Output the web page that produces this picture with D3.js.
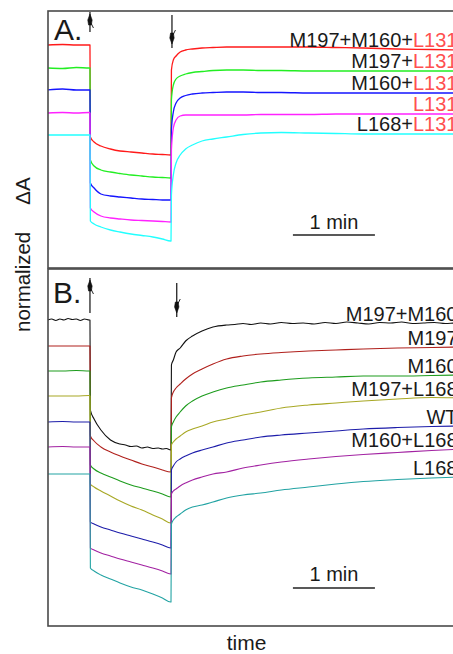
<!DOCTYPE html>
<html>
<head>
<meta charset="utf-8">
<script src="https://cdn.jsdelivr.net/npm/d3@7"></script>
<style>
  html, body { margin: 0; padding: 0; background: #fff; }
  svg { display: block; }
  text { font-family: "Liberation Sans", Arial, sans-serif; fill: #1a1a1a; }
</style>
</head>
<body>
<div id="chart"></div>
<script>
// Sampling times (s); light on at t = 0, light off at t = 59.3
const TIME = [-31, -20, -10, -0.5, 0, 0.3, 3, 8, 15, 22, 30, 38, 46, 53, 59, 59.3,
              59.6, 61, 63, 66, 70, 75, 82, 90, 100, 112, 125, 140, 160, 180, 200, 225, 250, 272];
// Denser sampling for the noisier M197+M160 trace
const TIME_K = [-31, -28, -25, -22, -19, -16, -13, -10, -7, -4, -0.5, 0,
                0.3, 3, 8, 15, 22, 26, 30, 34, 38, 42, 46, 50, 53, 56, 59, 59.3,
                59.6, 61, 63, 66, 70, 75, 82, 90, 100,
                106, 112, 118, 125, 132, 140, 148, 156, 164, 172, 180, 188, 196, 204,
                212, 220, 228, 236, 244, 252, 260, 268, 272];

// Panel A: L131 series — ΔA relative to dark level, plus vertical offsets
const namesA   = ["M197+M160+", "M197+", "M160+", "", "L168+"];
const suffixA  = "L131";
const offsetsA = [22.3, 20.0, 17.8, 15.5, 13.3];
const colorsA  = ["#ff1a1a", "#22ee22", "#1515ff", "#ff22ff", "#22ffff"];
const redA = [0, 0.05, 0, 0, 0,
  -9.2, -9.7, -10.1, -10.4, -10.6, -10.7, -10.8, -10.9, -10.95, -11.0, -11.0,
  -2.5, -1.5, -1.1, -0.7, -0.5, -0.4, -0.3, -0.25, -0.2, -0.2, -0.2, -0.2, -0.2, -0.25, -0.3, -0.4, -0.45, -0.5];
const greenA = [0, -0.05, 0.05, 0, 0,
  -9.2, -9.8, -10.2, -10.4, -10.55, -10.7, -10.8, -10.9, -10.95, -11.0, -11.0,
  -3.2, -1.7, -1.1, -0.8, -0.6, -0.45, -0.35, -0.25, -0.2, -0.2, -0.25, -0.25, -0.3, -0.3, -0.3, -0.3, -0.3, -0.3];
const blueA = [0, 0.1, 0, 0, 0,
  -9.3, -9.8, -10.4, -10.6, -10.7, -10.8, -10.9, -10.95, -11.0, -11.0, -11.0,
  -4.0, -2.2, -1.3, -0.8, -0.55, -0.4, -0.3, -0.25, -0.2, -0.2, -0.25, -0.25, -0.3, -0.3, -0.3, -0.3, -0.3, -0.3];
const magentaA = [0, 0.05, 0, 0.05, 0,
  -9.5, -9.9, -10.3, -10.5, -10.6, -10.7, -10.75, -10.8, -10.85, -10.9, -10.9,
  -3.7, -1.5, -0.7, -0.3, -0.2, -0.2, -0.2, -0.2, -0.2, -0.2, -0.15, -0.15, -0.15, -0.1, -0.1, -0.1, -0.1, -0.1];
const cyanA = [0, 0, 0, 0, 0,
  -8.6, -8.9, -9.2, -9.5, -9.7, -9.9, -10.05, -10.2, -10.4, -10.6, -10.6,
  -6.0, -4.0, -2.8, -2.0, -1.4, -1.0, -0.6, -0.4, -0.2, 0.05, 0.2, 0.25, 0.2, 0.15, 0.1, 0.1, 0.1, 0.1];

// Panel B: strains without L131
const namesB   = ["M197+M160", "M197", "M160", "M197+L168", "WT", "M160+L168", "L168"];
const offsetsB = [30.6, 28.0, 25.5, 23.0, 20.4, 17.9, 15.2];
const colorsB  = ["#111111", "#b0201c", "#1d9c1d", "#a8a825", "#1d1daa", "#a222a2", "#22a3a3"];
const blackB = [0, 0.1, -0.05, 0.1, 0, 0.15, 0.05, 0.1, -0.05, 0.1, 0, 0,
  -9.0, -9.9, -11.0, -12.0, -12.4, -12.5, -12.65, -12.6, -12.8, -12.7, -12.85, -12.8, -12.9, -12.85, -13.0, -13.0,
  -4.5, -4.0, -3.2, -2.8, -2.1, -1.6, -1.1, -0.7, -0.5,
  -0.45, -0.35, -0.45, -0.3, -0.4, -0.25, -0.35, -0.3, -0.4, -0.25, -0.35, -0.2, -0.3, -0.4,
  -0.25, -0.3, -0.2, -0.35, -0.3, -0.25, -0.35, -0.3, -0.3];
const darkRedB = [0, 0, 0, 0, 0,
  -9.0, -9.5, -10.1, -10.6, -11.0, -11.4, -11.8, -12.1, -12.4, -12.6, -12.6,
  -5.2, -4.6, -4.2, -3.8, -3.3, -2.8, -2.3, -1.8, -1.3, -1.0, -0.8, -0.65, -0.5, -0.4, -0.3, -0.2, -0.15, -0.1];
const greenB = [0, 0, 0.05, 0, 0,
  -9.4, -9.8, -10.2, -10.6, -11.0, -11.4, -11.7, -12.0, -12.3, -12.6, -12.6,
  -5.6, -5.1, -4.6, -4.1, -3.5, -3.0, -2.5, -2.1, -1.7, -1.4, -1.1, -0.9, -0.7, -0.6, -0.5, -0.5, -0.45, -0.4];
const oliveB = [0, 0, 0, 0.05, 0,
  -8.8, -9.1, -9.5, -10.0, -10.5, -11.0, -11.4, -11.9, -12.3, -12.7, -12.7,
  -4.9, -4.6, -4.3, -4.0, -3.6, -3.3, -3.0, -2.6, -2.3, -1.9, -1.6, -1.2, -0.9, -0.7, -0.5, -0.3, -0.15, -0.2];
const blueB = [0, 0.05, 0, 0, 0,
  -10.0, -10.2, -10.5, -10.8, -11.1, -11.4, -11.7, -12.0, -12.3, -12.6, -12.6,
  -4.8, -4.4, -4.0, -3.7, -3.4, -3.1, -2.8, -2.5, -2.1, -1.8, -1.5, -1.3, -1.1, -0.9, -0.7, -0.55, -0.45, -0.4];
const purpleB = [0, 0.05, 0, 0, 0,
  -10.1, -10.3, -10.6, -10.9, -11.2, -11.5, -11.8, -12.1, -12.4, -12.7, -12.7,
  -4.7, -4.4, -4.2, -3.9, -3.6, -3.3, -3.0, -2.7, -2.5, -2.1, -1.8, -1.5, -1.2, -0.95, -0.75, -0.55, -0.35, -0.2];
const tealB = [0, 0, 0, 0, 0,
  -9.4, -9.7, -10.1, -10.5, -10.9, -11.3, -11.6, -12.0, -12.4, -12.8, -12.8,
  -5.0, -4.6, -4.3, -4.0, -3.6, -3.3, -3.1, -2.8, -2.4, -2.1, -1.9, -1.6, -1.3, -1.0, -0.75, -0.55, -0.4, -0.3];

const seriesA = [redA, greenA, blueA, magentaA, cyanA];
const timesA  = [TIME, TIME, TIME, TIME, TIME];
const seriesB = [blackB, darkRedB, greenB, oliveB, blueB, purpleB, tealB];
const timesB  = [TIME_K, TIME, TIME, TIME, TIME, TIME, TIME];

// Light on / off marks (s) and the time scale bar (s)
const arrowsA = [0, 60];
const arrowsB = [0, 63.5];
const scaleBar = [148.5, 208.5];

const W = 453, H = 654;
const svg = d3.select("#chart").append("svg").attr("width", W).attr("height", H);

const x = d3.scaleLinear().domain([-31, 272]).range([47.6, 461.7]);
const yA = d3.scaleLinear().domain([0, 25.7]).range([268, 11]);
const yB = d3.scaleLinear().domain([0, 35.7]).range([626, 269]);

const left = 48, right = 470;

const defs = svg.append("defs");
defs.append("clipPath").attr("id", "clipA").append("rect")
  .attr("x", left).attr("y", yA.range()[1]).attr("width", right - left).attr("height", yA.range()[0] - yA.range()[1]);
defs.append("clipPath").attr("id", "clipB").append("rect")
  .attr("x", left).attr("y", yB.range()[1]).attr("width", right - left).attr("height", yB.range()[0] - yB.range()[1]);

function drawPanel(series, times, offsets, colors, y, clipId, width) {
  const g = svg.append("g").attr("clip-path", `url(#${clipId})`);
  series.forEach((vals, i) => {
    const t = times[i];
    const line = d3.line()
      .x((d, j) => x(t[j]))
      .y(d => y(d + offsets[i]))
      .curve(d3.curveMonotoneX);
    g.append("path")
      .attr("d", line(vals))
      .attr("fill", "none")
      .attr("stroke", colors[i])
      .attr("stroke-width", width)
      .attr("stroke-linejoin", "round");
  });
}

drawPanel(seriesA, timesA, offsetsA, colorsA, yA, "clipA", 1.3);
drawPanel(seriesB, timesB, offsetsB, colorsB, yB, "clipB", 1.1);

// Frames
const frame = svg.append("g").attr("fill", "none").attr("stroke", "#4a4a4a").attr("stroke-width", 1.6);
frame.append("rect").attr("x", left).attr("y", yA.range()[1]).attr("width", right - left).attr("height", yA.range()[0] - yA.range()[1]);
frame.append("rect").attr("x", left).attr("y", yB.range()[1]).attr("width", right - left).attr("height", yB.range()[0] - yB.range()[1]);

// Series labels at the right edge
const labelX = 457.5;
seriesA.forEach((vals, i) => {
  const t = svg.append("text")
    .attr("x", labelX)
    .attr("y", yA(vals[vals.length - 1] + offsetsA[i]) - 3)
    .attr("text-anchor", "end")
    .attr("font-size", 20);
  if (namesA[i]) t.append("tspan").text(namesA[i]);
  t.append("tspan").style("fill", "#ff5050").text(suffixA);
});
seriesB.forEach((vals, i) => {
  svg.append("text")
    .attr("x", labelX)
    .attr("y", yB(vals[vals.length - 1] + offsetsB[i]) - 2)
    .attr("text-anchor", "end")
    .attr("font-size", 20)
    .text(namesB[i]);
});

// Panel letters
svg.append("text").attr("x", 54).attr("y", 40).attr("font-size", 30).text("A.");
svg.append("text").attr("x", 53).attr("y", 303).attr("font-size", 30).text("B.");

// Light on (up) / off (down) arrows
function arrow(xPos, y0, y1, up) {
  const g = svg.append("g").attr("fill", "#111").attr("stroke", "#111");
  g.append("line").attr("x1", xPos).attr("x2", xPos).attr("y1", y0).attr("y2", y1).attr("stroke-width", 1.2);
  const tip = up ? y0 + 2 : y1 - 4;
  const dir = up ? 1 : -1;
  g.append("path")
    .attr("d", `M${xPos},${tip} L${xPos - 2.2},${tip + dir * 6} L${xPos - 1.4},${tip + dir * 11} L${xPos + 1.4},${tip + dir * 11} L${xPos + 2.2},${tip + dir * 6} Z`)
    .attr("stroke-width", 0.6);
  g.append("line").attr("x1", xPos + 1).attr("x2", xPos + 3.5)
    .attr("y1", tip + dir * 9).attr("y2", tip + dir * 14).attr("stroke-width", 0.9);
}
arrow(x(arrowsA[0]), 12, 32, true);
arrow(x(arrowsA[1]), 15, 48, false);
arrow(x(arrowsB[0]), 278, 313, true);
arrow(x(arrowsB[1]), 283, 317, false);

// Time scale bars
function bar(yLine, yText) {
  svg.append("line")
    .attr("x1", x(scaleBar[0])).attr("x2", x(scaleBar[1]))
    .attr("y1", yLine).attr("y2", yLine)
    .attr("stroke", "#222").attr("stroke-width", 1.4);
  svg.append("text")
    .attr("x", (x(scaleBar[0]) + x(scaleBar[1])) / 2)
    .attr("y", yText)
    .attr("text-anchor", "middle")
    .attr("font-size", 20)
    .text("1 min");
}
bar(235, 229);
bar(588, 581);

// Axis titles
svg.append("text").attr("x", (left + 453) / 2 - 4).attr("y", 650).attr("text-anchor", "middle")
  .attr("font-size", 21).text("time");
const yt = svg.append("text").attr("transform", "translate(30,332) rotate(-90)").attr("font-size", 20.5);
yt.append("tspan").text("normalized");
yt.append("tspan").attr("dx", 27).text("ΔA");
</script>
</body>
</html>
